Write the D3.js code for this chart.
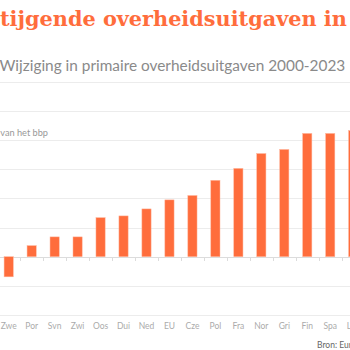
<!DOCTYPE html>
<html><head><meta charset="utf-8">
<script src="https://cdn.jsdelivr.net/npm/d3@7"></script>
<style>html,body{margin:0;padding:0;background:#fff;overflow:hidden}svg{display:block}</style>
</head><body>
<script>
const categories = ["Zwe","Por","Svn","Zwi","Oos","Dui","Ned","EU","Cze","Pol","Fra","Nor","Gri","Fin","Spa","Lux"];
const values = [-0.69,0.38,0.68,0.68,1.34,1.40,1.64,1.95,2.10,2.62,3.03,3.54,3.68,4.23,4.23,4.33];
const yTicks = [-2,-1,0,1,2,3,4,5];
const titleText = "Stijgende overheidsuitgaven in Europa";
const subtitleText = "Wijziging in primaire overheidsuitgaven 2000-2023";
const unitText = "Procentpunten van het bbp";
const sourceText = "Bron: Eurostat";

const W = 350, H = 350;
const orange = "#ff6d3c";
const svg = d3.select("body").append("svg").attr("width", W).attr("height", H);

const TFS = 21;
function measure(str){
  const m = svg.append("text").attr("font-family","DejaVu Serif").attr("font-weight","bold")
    .attr("font-size",TFS).text(str);
  const l = m.node().getComputedTextLength(); m.remove(); return l;
}
const lS = measure(titleText[0]);
const lIn = measure("Stijgende overheidsuitgaven in");
const sx = 347 / (lIn - lS);
svg.append("text").attr("transform", `translate(${-lS*sx},25.5) scale(${sx},1)`)
  .attr("fill", orange)
  .attr("font-family", "DejaVu Serif").attr("font-weight", "bold").attr("font-size", TFS)
  .text(titleText);

const st = svg.append("text").attr("x", -0.5).attr("y", 71).attr("fill", "#8a8a8a")
  .attr("font-family", "Lato").attr("font-size", 14).text(subtitleText);
const sl = st.node().getComputedTextLength();
st.attr("font-size", 14 * 346 / sl);

svg.append("line").attr("x1",0).attr("x2",W).attr("y1",82.5).attr("y2",82.5)
  .attr("stroke","#ececec").attr("stroke-width",1);

const y = d3.scaleLinear().domain([-2,5]).range([315,111]);
const x = d3.scaleBand().domain(categories).range([-2.8, 364.7]).paddingInner(0.6).paddingOuter(0.3);

svg.append("g").selectAll("line").data(yTicks).join("line")
  .attr("x1",0).attr("x2",W)
  .attr("y1",d=>Math.round(y(d))+0.5).attr("y2",d=>Math.round(y(d))+0.5)
  .attr("stroke", d=> d===0 ? "#dcdcdc" : "#ececec").attr("stroke-width",1);

const bounds = categories.slice(0,-1).map(c => x(c) + x.bandwidth()/2 + x.step()/2);
svg.append("g").selectAll("line").data(bounds).join("line")
  .attr("x1",d=>Math.round(d)+0.5).attr("x2",d=>Math.round(d)+0.5)
  .attr("y1",Math.round(y(0))+0.5).attr("y2",Math.round(y(0))+4)
  .attr("stroke","#dcdcdc");

svg.append("text").attr("x",48).attr("y",y(4)-4).attr("text-anchor","end")
  .attr("fill","#999").attr("font-family","Lato").attr("font-size",9.2).text(unitText);

svg.append("g").selectAll("rect").data(categories).join("rect")
  .attr("x", c => x(c)).attr("width", x.bandwidth())
  .attr("y", (c,i) => y(Math.max(0, values[i])))
  .attr("height", (c,i) => Math.abs(y(values[i]) - y(0)))
  .attr("fill", orange).attr("stroke","#ffb49a").attr("stroke-width",0.5);

svg.append("g").selectAll("text").data(categories).join("text")
  .attr("x", c => x(c) + x.bandwidth()/2).attr("y", 329).attr("text-anchor","middle")
  .attr("fill","#ababab").attr("font-family","Lato").attr("font-size",8.5).text(c=>c);

svg.append("text").attr("x",317).attr("y",347.5).attr("fill","#666")
  .attr("font-family","Lato").attr("font-size",8.5).text(sourceText);
</script>
</body></html>
